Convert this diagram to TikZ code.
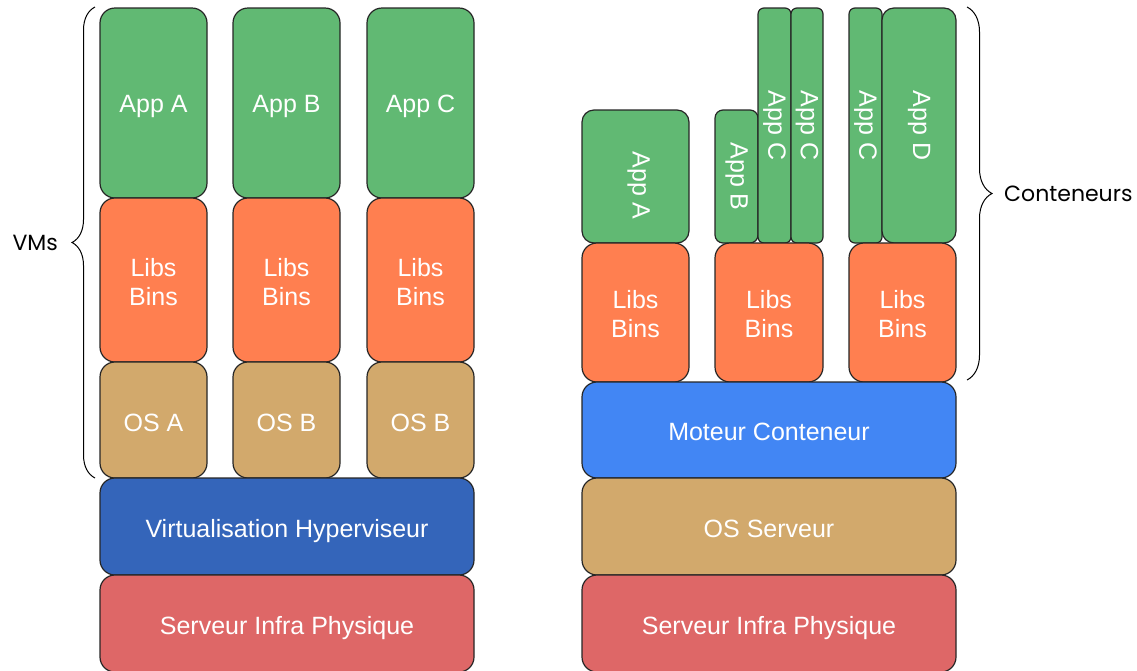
\documentclass[tikz,border=0pt]{standalone}
\usepackage{fontspec}
\setmainfont{Liberation Sans}
\newfontfamily\lblfont{Poppins}
\usetikzlibrary{decorations.pathreplacing, positioning}

\definecolor{appgreen}{RGB}{97,185,115}
\definecolor{libsorange}{RGB}{255,127,80}
\definecolor{ostan}{RGB}{210,169,108}
\definecolor{hypblue}{RGB}{52,101,186}
\definecolor{engblue}{RGB}{66,134,244}
\definecolor{srvred}{RGB}{222,103,103}

% move text inside a box without changing its size
\newcommand{\nudge}[2]{\raisebox{#1}[\height][\depth]{#2}}

\begin{document}
\begin{tikzpicture}[x=1pt, y=-1pt,
  layer/.style={draw=black!85, line width=1.2pt, rounded corners=15pt, text=white,
    inner sep=0pt, align=center, font=\fontsize{25}{29}\selectfont},
  slim/.style={layer, rounded corners=6pt, rotate=-90},
  curly/.style={decorate, decoration={brace, amplitude=#1}, line width=1pt},
  lbl/.style={font=\lblfont\fontsize{22}{26}\selectfont, inner sep=0pt}]
\useasboundingbox (0,0) rectangle (1137,670);

% Machines virtuelles
\foreach \x/\n/\os in {153.5/A/A, 286.5/B/B, 420.5/C/B} {
  \node[layer, fill=appgreen, minimum width=107pt, minimum height=190pt] (vapp\n) at (\x,103) {\nudge{-3pt}{App \n}};
  \node[layer, fill=libsorange, minimum width=107pt, minimum height=164pt] (vlibs\n) at (\x,280) {\nudge{-2pt}{Libs}\\\nudge{-2pt}{Bins}};
  \node[layer, fill=ostan, minimum width=107pt, minimum height=116pt] (vos\n) at (\x,420) {\nudge{-3pt}{OS \os}};
}
\node[layer, fill=hypblue, minimum width=374pt, minimum height=97pt] (hyp) at (287,526.5) {\nudge{-5pt}{Virtualisation Hyperviseur}};
\node[layer, fill=srvred, minimum width=374pt, minimum height=97pt] (vsrv) at (287,623.5) {\nudge{-5pt}{Serveur Infra Physique}};

% Conteneurs
\node[layer, rounded corners=12pt, rotate=-90, fill=appgreen, minimum width=133pt, minimum height=107pt] (capA) at (635.5,176.5) {\hspace*{18pt}\nudge{3pt}{App A}};
\node[slim, rounded corners=8pt, fill=appgreen, minimum width=133pt, minimum height=43pt] (capB) at (736.5,176.5) {App B};
\node[slim, fill=appgreen, minimum width=235pt, minimum height=33pt] (capC1) at (774.5,125.5) {App C};
\node[slim, fill=appgreen, minimum width=235pt, minimum height=32pt] (capC2) at (807,125.5) {App C};
\node[slim, fill=appgreen, minimum width=235pt, minimum height=33pt] (capC3) at (865.5,125.5) {App C};
\node[slim, rounded corners=12pt, fill=appgreen, minimum width=235pt, minimum height=74pt] (capD) at (919,125.5) {App D};

\node[layer, fill=libsorange, minimum width=107pt, minimum height=139pt] (clibs1) at (635.5,312.5) {\nudge{-2pt}{Libs}\\\nudge{-2pt}{Bins}};
\node[layer, fill=libsorange, minimum width=108pt, minimum height=139pt] (clibs2) at (769,312.5) {\nudge{-2pt}{Libs}\\\nudge{-2pt}{Bins}};
\node[layer, fill=libsorange, minimum width=107pt, minimum height=139pt] (clibs3) at (902.5,312.5) {\nudge{-2pt}{Libs}\\\nudge{-2pt}{Bins}};

\node[layer, fill=engblue, minimum width=374pt, minimum height=96pt] (engine) at (769,430) {\nudge{-2pt}{Moteur Conteneur}};
\node[layer, fill=ostan, minimum width=374pt, minimum height=97pt] (hostos) at (769,526.5) {\nudge{-2pt}{OS Serveur}};
\node[layer, fill=srvred, minimum width=374pt, minimum height=97pt] (csrv) at (769,623.5) {\nudge{-5pt}{Serveur Infra Physique}};

% Accolades
\coordinate (vmbot) at (95,478);
\coordinate (vmtop) at (95,7);
\draw[curly=23pt] (vmbot) -- (vmtop);
\node[lbl, anchor=east] (vms) at (58,243) {VMs};

\coordinate (cttop) at (967,7);
\coordinate (ctbot) at (967,380);
\draw[curly=25pt] (cttop) -- (ctbot);
\node[lbl, anchor=west] (ctn) at (1004,194) {Conteneurs};
\end{tikzpicture}
\end{document}
